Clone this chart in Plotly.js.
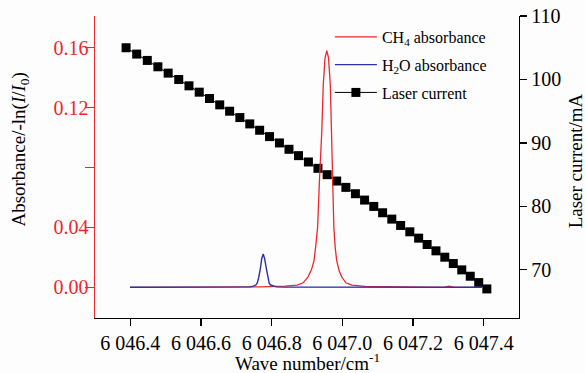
<!DOCTYPE html>
<html>
<head>
<meta charset="utf-8">
<script src="https://cdn.plot.ly/plotly-3.0.1.min.js"></script>
<style>html,body{margin:0;padding:0;background:#fdfdfd;}#chart{width:585px;height:373px;}</style>
</head>
<body>
<div id="chart"></div>
<script>
// Laser current scan (wave number in cm^-1, current in mA)
const currentWave = [6046.388, 6046.418, 6046.448, 6046.478, 6046.507, 6046.537, 6046.566, 6046.595, 6046.624, 6046.653,
  6046.681, 6046.710, 6046.738, 6046.766, 6046.794, 6046.822, 6046.849, 6046.876, 6046.904, 6046.931,
  6046.957, 6046.984, 6047.010, 6047.037, 6047.063, 6047.089, 6047.114, 6047.140, 6047.165, 6047.191,
  6047.216, 6047.240, 6047.265, 6047.290, 6047.314, 6047.338, 6047.362, 6047.386, 6047.409];
const currentMA = [105, 104, 103, 102, 101, 100, 99, 98, 97, 96,
  95, 94, 93, 92, 91, 90, 89, 88, 87, 86,
  85, 84, 83, 82, 81, 80, 79, 78, 77, 76,
  75, 74, 73, 72, 71, 70, 69, 68, 67];

// CH4 absorbance
const ch4Wave = [6046.399, 6046.682, 6046.767, 6046.838, 6046.872, 6046.889, 6046.903, 6046.913, 6046.920, 6046.925,
  6046.930, 6046.935, 6046.938, 6046.942, 6046.946, 6046.951, 6046.956, 6046.961, 6046.966, 6046.969,
  6046.971, 6046.974, 6046.976, 6046.980, 6046.984, 6046.991, 6046.998, 6047.010, 6047.027, 6047.064,
  6047.135, 6047.220, 6047.288, 6047.302, 6047.316, 6047.395];
const ch4Abs = [0, 0, 0.0003, 0.0008, 0.0015, 0.003, 0.007, 0.012, 0.018, 0.028,
  0.040, 0.070, 0.082, 0.105, 0.135, 0.153, 0.158, 0.153, 0.135, 0.110,
  0.082, 0.060, 0.040, 0.026, 0.018, 0.011, 0.007, 0.003, 0.0015, 0.0006,
  0.0002, 0.0001, 0, 0.0008, 0, 0];

// H2O absorbance
const h2oWave = [6046.399, 6046.700, 6046.739, 6046.748, 6046.755, 6046.759, 6046.763, 6046.768, 6046.772, 6046.776,
  6046.780, 6046.785, 6046.789, 6046.793, 6046.797, 6046.804, 6046.813, 6046.833, 6047.395];
const h2oAbs = [0, 0, 0.0003, 0.0008, 0.0015, 0.0028, 0.0062, 0.0125, 0.0192, 0.0222,
  0.0192, 0.0125, 0.0062, 0.0028, 0.0015, 0.0008, 0.0003, 0.0001, 0];

const xTickVals = [6046.4, 6046.6, 6046.8, 6047.0, 6047.2, 6047.4];
const xTickText = ['6 046.4', '6 046.6', '6 046.8', '6 047.0', '6 047.2', '6 047.4'];
const absTickVals = [0, 0.04, 0.08, 0.12, 0.16];
const absTickText = ['0.00', '0.04', '', '0.12', '0.16'];
const currentTickVals = [70, 80, 90, 100, 110];

const serif = 'Liberation Serif, Times New Roman, serif';
const red = '#f0262a';
const blue = '#2e30a8';

const traces = [
  {
    x: currentWave, y: currentMA, yaxis: 'y', type: 'scatter', mode: 'lines+markers',
    name: 'Laser current', legendrank: 3, legendgroup: 'c',
    line: {color: '#000000', width: 1},
    marker: {symbol: 'square', size: 9, color: '#000000'}
  },
  {
    x: ch4Wave, y: ch4Abs, yaxis: 'y2', type: 'scatter', mode: 'lines',
    name: 'CH<sub>4</sub> absorbance', legendrank: 1, legendgroup: 'a',
    line: {color: red, width: 1.3}
  },
  {
    x: h2oWave, y: h2oAbs, yaxis: 'y2', type: 'scatter', mode: 'lines',
    name: 'H<sub>2</sub>O absorbance', legendrank: 2, legendgroup: 'b',
    line: {color: blue, width: 1.4}
  }
];

const layout = {
  width: 585, height: 373,
  margin: {l: 95, r: 66, t: 16, b: 55},
  paper_bgcolor: '#fdfdfd', plot_bgcolor: '#fdfdfd',
  font: {family: serif, color: '#000000'},
  showlegend: true,
  legend: {
    x: 0.554, y: 0.987, xanchor: 'left', yanchor: 'top',
    bgcolor: 'rgba(0,0,0,0)', font: {family: serif, size: 16, color: '#000000'},
    tracegroupgap: 4, itemwidth: 42
  },
  xaxis: {
    range: [6046.3, 6047.5], tickvals: xTickVals, ticktext: xTickText,
    showline: true, linecolor: '#000000', linewidth: 1.3,
    ticks: 'outside', ticklen: 7, tickwidth: 1.2, tickcolor: '#000000',
    showgrid: false, zeroline: false,
    tickfont: {family: serif, size: 20, color: '#000000'}
  },
  yaxis: {
    side: 'right', range: [62.42, 110], tickvals: currentTickVals,
    showline: true, linecolor: '#000000', linewidth: 1.3,
    ticks: 'outside', ticklen: 7, tickwidth: 1.2, tickcolor: '#000000',
    showgrid: false, zeroline: false,
    tickfont: {family: serif, size: 20, color: '#000000'}
  },
  yaxis2: {
    overlaying: 'y', side: 'left', range: [-0.0205, 0.1811],
    tickvals: absTickVals, ticktext: absTickText,
    showline: true, linecolor: red, linewidth: 1.5,
    ticks: 'outside', ticklen: 9, tickwidth: 1.3, tickcolor: red,
    ticklabelstandoff: -8,
    showgrid: false, zeroline: false,
    tickfont: {family: serif, size: 20, color: red}
  },
  annotations: [
    {
      text: 'Absorbance/-ln(<i>I</i>/<i>I</i><sub>0</sub>)', textangle: -90,
      xref: 'paper', yref: 'paper', x: -0.1757, y: 0.556, xanchor: 'center', yanchor: 'middle',
      showarrow: false, font: {family: serif, size: 19, color: '#000000'}
    },
    {
      text: 'Laser current/mA', textangle: -90,
      xref: 'paper', yref: 'paper', x: 1.1333, y: 0.5205, xanchor: 'center', yanchor: 'middle',
      showarrow: false, font: {family: serif, size: 19, color: '#000000'}
    },
    {
      text: 'Wave number/cm<sup>-1</sup>',
      xref: 'paper', yref: 'paper', x: 0.5, y: -0.1457, xanchor: 'center', yanchor: 'middle',
      showarrow: false, font: {family: serif, size: 19, color: '#000000'}
    }
  ]
};

Plotly.newPlot('chart', traces, layout, {displayModeBar: false, staticPlot: true});
</script>
</body>
</html>
